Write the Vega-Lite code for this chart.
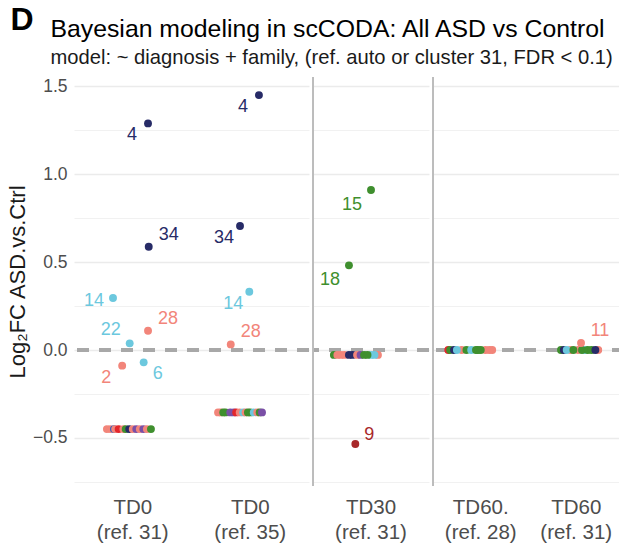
{
  "$schema": "https://vega.github.io/schema/vega-lite/v6.json",
  "padding": {"left": 6, "top": 4, "right": 0, "bottom": 0},
  "background": "white",
  "config": {"font": "Liberation Sans", "view": {"stroke": null}, "concat": {"spacing": 0}},
  "title": {"text": "D", "anchor": "start", "fontSize": 32, "fontWeight": "bold", "color": "#000000", "dy": 24, "dx": 4},
  "data": {"values": [
    {"cat": "TD0 (ref. 31)", "grp": "A", "lfc": -0.45, "jit": -0.22},
    {"cat": "TD0 (ref. 31)", "grp": "A", "lfc": -0.45, "jit": -0.19},
    {"cat": "TD0 (ref. 31)", "grp": "C", "lfc": -0.45, "jit": -0.16},
    {"cat": "TD0 (ref. 31)", "grp": "A", "lfc": -0.45, "jit": -0.15},
    {"cat": "TD0 (ref. 31)", "grp": "B", "lfc": -0.45, "jit": -0.12},
    {"cat": "TD0 (ref. 31)", "grp": "A", "lfc": -0.45, "jit": -0.08},
    {"cat": "TD0 (ref. 31)", "grp": "D", "lfc": -0.45, "jit": -0.06},
    {"cat": "TD0 (ref. 31)", "grp": "G", "lfc": -0.45, "jit": -0.03},
    {"cat": "TD0 (ref. 31)", "grp": "A", "lfc": -0.45, "jit": 0.0},
    {"cat": "TD0 (ref. 31)", "grp": "E", "lfc": -0.45, "jit": 0.03},
    {"cat": "TD0 (ref. 31)", "grp": "A", "lfc": -0.45, "jit": 0.06},
    {"cat": "TD0 (ref. 31)", "grp": "E", "lfc": -0.45, "jit": 0.09},
    {"cat": "TD0 (ref. 31)", "grp": "A", "lfc": -0.45, "jit": 0.12},
    {"cat": "TD0 (ref. 31)", "grp": "D", "lfc": -0.45, "jit": 0.155},
    {"cat": "TD0 (ref. 31)", "grp": "G", "lfc": 1.29, "jit": 0.13, "lab": "4"},
    {"cat": "TD0 (ref. 31)", "grp": "G", "lfc": 0.588, "jit": 0.136, "lab": "34"},
    {"cat": "TD0 (ref. 31)", "grp": "F", "lfc": 0.296, "jit": -0.168, "lab": "14"},
    {"cat": "TD0 (ref. 31)", "grp": "F", "lfc": 0.038, "jit": -0.026, "lab": "22"},
    {"cat": "TD0 (ref. 31)", "grp": "A", "lfc": 0.11, "jit": 0.13, "lab": "28"},
    {"cat": "TD0 (ref. 31)", "grp": "A", "lfc": -0.089, "jit": -0.09, "lab": "2"},
    {"cat": "TD0 (ref. 31)", "grp": "F", "lfc": -0.07, "jit": 0.093, "lab": "6"},

    {"cat": "TD0 (ref. 35)", "grp": "A", "lfc": -0.355, "jit": -0.274},
    {"cat": "TD0 (ref. 35)", "grp": "A", "lfc": -0.355, "jit": -0.25},
    {"cat": "TD0 (ref. 35)", "grp": "D", "lfc": -0.355, "jit": -0.23},
    {"cat": "TD0 (ref. 35)", "grp": "D", "lfc": -0.355, "jit": -0.21},
    {"cat": "TD0 (ref. 35)", "grp": "E", "lfc": -0.355, "jit": -0.17},
    {"cat": "TD0 (ref. 35)", "grp": "E", "lfc": -0.355, "jit": -0.14},
    {"cat": "TD0 (ref. 35)", "grp": "B", "lfc": -0.355, "jit": -0.12},
    {"cat": "TD0 (ref. 35)", "grp": "A", "lfc": -0.355, "jit": -0.09},
    {"cat": "TD0 (ref. 35)", "grp": "F", "lfc": -0.355, "jit": -0.06},
    {"cat": "TD0 (ref. 35)", "grp": "A", "lfc": -0.355, "jit": -0.04},
    {"cat": "TD0 (ref. 35)", "grp": "D", "lfc": -0.355, "jit": -0.02},
    {"cat": "TD0 (ref. 35)", "grp": "D", "lfc": -0.355, "jit": 0.0},
    {"cat": "TD0 (ref. 35)", "grp": "F", "lfc": -0.355, "jit": 0.03},
    {"cat": "TD0 (ref. 35)", "grp": "A", "lfc": -0.355, "jit": 0.06},
    {"cat": "TD0 (ref. 35)", "grp": "D", "lfc": -0.355, "jit": 0.08},
    {"cat": "TD0 (ref. 35)", "grp": "E", "lfc": -0.355, "jit": 0.1},
    {"cat": "TD0 (ref. 35)", "grp": "G", "lfc": 1.451, "jit": 0.074, "lab": "4"},
    {"cat": "TD0 (ref. 35)", "grp": "G", "lfc": 0.706, "jit": -0.087, "lab": "34"},
    {"cat": "TD0 (ref. 35)", "grp": "F", "lfc": 0.332, "jit": -0.008, "lab": "14"},
    {"cat": "TD0 (ref. 35)", "grp": "A", "lfc": 0.032, "jit": -0.166, "lab": "28"},

    {"cat": "TD30 (ref. 31)", "grp": "D", "lfc": -0.028, "jit": -0.32},
    {"cat": "TD30 (ref. 31)", "grp": "A", "lfc": -0.028, "jit": -0.29},
    {"cat": "TD30 (ref. 31)", "grp": "A", "lfc": -0.028, "jit": -0.26},
    {"cat": "TD30 (ref. 31)", "grp": "A", "lfc": -0.028, "jit": -0.23},
    {"cat": "TD30 (ref. 31)", "grp": "G", "lfc": -0.028, "jit": -0.19},
    {"cat": "TD30 (ref. 31)", "grp": "G", "lfc": -0.028, "jit": -0.16},
    {"cat": "TD30 (ref. 31)", "grp": "A", "lfc": -0.028, "jit": -0.12},
    {"cat": "TD30 (ref. 31)", "grp": "E", "lfc": -0.028, "jit": -0.09},
    {"cat": "TD30 (ref. 31)", "grp": "A", "lfc": -0.028, "jit": 0.06},
    {"cat": "TD30 (ref. 31)", "grp": "F", "lfc": -0.028, "jit": 0.03},
    {"cat": "TD30 (ref. 31)", "grp": "F", "lfc": -0.028, "jit": 0.0},
    {"cat": "TD30 (ref. 31)", "grp": "D", "lfc": -0.028, "jit": -0.06},
    {"cat": "TD30 (ref. 31)", "grp": "D", "lfc": -0.028, "jit": -0.03},
    {"cat": "TD30 (ref. 31)", "grp": "D", "lfc": 0.911, "jit": 0.0, "lab": "15"},
    {"cat": "TD30 (ref. 31)", "grp": "D", "lfc": 0.482, "jit": -0.19, "lab": "18"},
    {"cat": "TD30 (ref. 31)", "grp": "H", "lfc": -0.535, "jit": -0.135, "lab": "9"},

    {"cat": "TD60. (ref. 28)", "grp": "B", "lfc": 0.0, "jit": -0.34},
    {"cat": "TD60. (ref. 28)", "grp": "A", "lfc": 0.0, "jit": 0.12},
    {"cat": "TD60. (ref. 28)", "grp": "A", "lfc": 0.0, "jit": 0.09},
    {"cat": "TD60. (ref. 28)", "grp": "A", "lfc": 0.0, "jit": 0.05},
    {"cat": "TD60. (ref. 28)", "grp": "A", "lfc": 0.0, "jit": -0.2},
    {"cat": "TD60. (ref. 28)", "grp": "D", "lfc": 0.0, "jit": -0.32},
    {"cat": "TD60. (ref. 28)", "grp": "G", "lfc": 0.0, "jit": -0.28},
    {"cat": "TD60. (ref. 28)", "grp": "F", "lfc": 0.0, "jit": -0.25},
    {"cat": "TD60. (ref. 28)", "grp": "D", "lfc": 0.0, "jit": -0.15},
    {"cat": "TD60. (ref. 28)", "grp": "F", "lfc": 0.0, "jit": -0.1},
    {"cat": "TD60. (ref. 28)", "grp": "D", "lfc": 0.0, "jit": -0.05},
    {"cat": "TD60. (ref. 28)", "grp": "D", "lfc": 0.0, "jit": -0.03},
    {"cat": "TD60. (ref. 28)", "grp": "D", "lfc": 0.0, "jit": 0.0},

    {"cat": "TD60 (ref. 31)", "grp": "A", "lfc": 0.0, "jit": 0.23},
    {"cat": "TD60 (ref. 31)", "grp": "A", "lfc": 0.0, "jit": -0.06},
    {"cat": "TD60 (ref. 31)", "grp": "A", "lfc": 0.0, "jit": 0.02},
    {"cat": "TD60 (ref. 31)", "grp": "D", "lfc": 0.0, "jit": -0.16},
    {"cat": "TD60 (ref. 31)", "grp": "G", "lfc": 0.0, "jit": -0.13},
    {"cat": "TD60 (ref. 31)", "grp": "F", "lfc": 0.0, "jit": -0.1},
    {"cat": "TD60 (ref. 31)", "grp": "D", "lfc": 0.0, "jit": -0.03},
    {"cat": "TD60 (ref. 31)", "grp": "F", "lfc": 0.0, "jit": 0.09},
    {"cat": "TD60 (ref. 31)", "grp": "D", "lfc": 0.0, "jit": 0.06},
    {"cat": "TD60 (ref. 31)", "grp": "D", "lfc": 0.0, "jit": 0.12},
    {"cat": "TD60 (ref. 31)", "grp": "D", "lfc": 0.0, "jit": 0.16},
    {"cat": "TD60 (ref. 31)", "grp": "G", "lfc": 0.0, "jit": 0.2},
    {"cat": "TD60 (ref. 31)", "grp": "A", "lfc": 0.04, "jit": 0.05, "lab": "11"}
  ]},
  "vconcat": [{
    "title": {"text": "Bayesian modeling in scCODA: All ASD vs Control", "subtitle": "model: ~ diagnosis + family, (ref. auto or cluster 31, FDR < 0.1)", "anchor": "start", "fontSize": 24.8, "fontWeight": "normal", "color": "#000000", "subtitleFontSize": 20.2, "subtitleColor": "#1a1a1a", "subtitlePadding": 6, "dx": 44, "offset": 8},
    "spacing": 0,
    "resolve": {"scale": {"x": "independent", "xOffset": "independent"}},
    "hconcat": [
      {
        "width": 235, "height": 409,
        "transform": [{"filter": {"field": "cat", "oneOf": ["TD0 (ref. 31)", "TD0 (ref. 35)"]}}],
        "resolve": {"axis": {"y": "independent"}},
        "layer": [
          {"mark": {"type": "rule", "color": "#a8a8a8", "strokeWidth": 2.4, "strokeDash": [12, 10]},
           "encoding": {"y": {"datum": 0, "type": "quantitative", "scale": {"domain": [-0.774, 1.554], "nice": false, "zero": false},
             "axis": {"orient": "right", "values": [-0.75, -0.25, 0.25, 0.75, 1.25], "labels": false, "ticks": false, "domain": false, "title": null, "grid": true, "gridColor": "#ededed", "gridWidth": 0.8}}}},
          {
            "encoding": {
              "x": {"field": "cat", "type": "nominal", "sort": ["TD0 (ref. 31)", "TD0 (ref. 35)"], "scale": {"type": "band", "paddingInner": 0, "paddingOuter": 0},
                "axis": {"title": null, "labelAngle": 0, "labelExpr": "split(replace(datum.value, ' (', '|('), '|')", "labelFontSize": 20.5, "labelColor": "#4d4d4d", "labelLineHeight": 25, "labelPadding": 11, "labelBaseline": "top", "ticks": false, "domain": false, "grid": false}},
              "xOffset": {"field": "jit", "type": "quantitative", "scale": {"domain": [-0.5, 0.5], "range": [0, 117.5]}},
              "y": {"field": "lfc", "type": "quantitative", "scale": {"domain": [-0.774, 1.554], "nice": false, "zero": false},
                "axis": {"orient": "left", "values": [-0.5, 0, 0.5, 1, 1.5], "format": ".1f", "labelExpr": "replace(datum.label, '-', '−')", "title": "Log₂FC ASD.vs.Ctrl", "titleFontSize": 22, "titleFontWeight": "normal", "titleColor": "#1a1a1a", "titlePadding": 3, "labelFontSize": 17.5, "labelColor": "#4d4d4d", "labelPadding": 7, "ticks": false, "domain": false, "grid": true, "gridColor": "#ebebeb", "gridWidth": 1.5}},
              "color": {"field": "grp", "type": "nominal", "legend": null, "scale": {"domain": ["A", "B", "C", "D", "E", "F", "G", "H"], "range": ["#F2857A", "#E3262B", "#3A5DB6", "#3F8F2E", "#7A4FA6", "#6CC8DE", "#272B67", "#A8282A"]}}
            },
            "layer": [
              {"mark": {"type": "circle", "size": 62, "opacity": 1}},
              {"transform": [{"filter": "indexof(['TD0 (ref. 31)|4','TD0 (ref. 31)|2','TD0 (ref. 35)|4','TD0 (ref. 35)|34','TD0 (ref. 35)|14'], datum.cat + '|' + datum.lab) >= 0"}],
               "mark": {"type": "text", "fontSize": 18, "align": "center", "baseline": "middle", "dx": -16, "dy": 12}, "encoding": {"text": {"field": "lab"}}},
              {"transform": [{"filter": "indexof(['TD0 (ref. 31)|34','TD0 (ref. 31)|28','TD0 (ref. 35)|28'], datum.cat + '|' + datum.lab) >= 0"}],
               "mark": {"type": "text", "fontSize": 18, "align": "center", "baseline": "middle", "dx": 20, "dy": -12}, "encoding": {"text": {"field": "lab"}}},
              {"transform": [{"filter": "datum.cat + '|' + datum.lab == 'TD0 (ref. 31)|22'"}],
               "mark": {"type": "text", "fontSize": 18, "align": "center", "baseline": "middle", "dx": -19, "dy": -13}, "encoding": {"text": {"field": "lab"}}},
              {"transform": [{"filter": "datum.cat + '|' + datum.lab == 'TD0 (ref. 31)|6'"}],
               "mark": {"type": "text", "fontSize": 18, "align": "center", "baseline": "middle", "dx": 14, "dy": 12}, "encoding": {"text": {"field": "lab"}}},
              {"transform": [{"filter": "datum.cat + '|' + datum.lab == 'TD0 (ref. 31)|14'"}],
               "mark": {"type": "text", "fontSize": 18, "align": "center", "baseline": "middle", "dx": -19, "dy": 3}, "encoding": {"text": {"field": "lab"}}}
            ]
          }
        ]
      },
      {
        "width": 116, "height": 409,
        "transform": [{"filter": {"field": "cat", "oneOf": ["TD30 (ref. 31)"]}}],
        "resolve": {"axis": {"y": "independent"}},
        "layer": [
          {"mark": {"type": "rule", "color": "#a8a8a8", "strokeWidth": 2.4, "strokeDash": [12, 10]},
           "encoding": {"y": {"datum": 0, "type": "quantitative", "scale": {"domain": [-0.774, 1.554], "nice": false, "zero": false},
             "axis": {"orient": "right", "values": [-0.75, -0.25, 0.25, 0.75, 1.25], "labels": false, "ticks": false, "domain": false, "title": null, "grid": true, "gridColor": "#ededed", "gridWidth": 0.8}}}},
          {"mark": {"type": "rule", "color": "#bdbdbd", "strokeWidth": 1.2},
           "encoding": {"x": {"datum": "TD30 (ref. 31)", "type": "nominal", "bandPosition": 0, "scale": {"type": "band", "paddingInner": 0, "paddingOuter": 0},
             "axis": {"title": null, "labelAngle": 0, "labelExpr": "split(replace(datum.value, ' (', '|('), '|')", "labelFontSize": 20.5, "labelColor": "#4d4d4d", "labelLineHeight": 25, "labelPadding": 11, "labelBaseline": "top", "ticks": false, "domain": false, "grid": false}}}},
          {
            "encoding": {
              "x": {"field": "cat", "type": "nominal", "scale": {"type": "band", "paddingInner": 0, "paddingOuter": 0},
                "axis": {"title": null, "labelAngle": 0, "labelExpr": "split(replace(datum.value, ' (', '|('), '|')", "labelFontSize": 20.5, "labelColor": "#4d4d4d", "labelLineHeight": 25, "labelPadding": 11, "labelBaseline": "top", "ticks": false, "domain": false, "grid": false}},
              "xOffset": {"field": "jit", "type": "quantitative", "scale": {"domain": [-0.5, 0.5], "range": [0, 116]}},
              "y": {"field": "lfc", "type": "quantitative", "scale": {"domain": [-0.774, 1.554], "nice": false, "zero": false},
                "axis": {"orient": "left", "values": [-0.5, 0, 0.5, 1, 1.5], "labels": false, "title": null, "ticks": false, "domain": false, "grid": true, "gridColor": "#ebebeb", "gridWidth": 1.5}},
              "color": {"field": "grp", "type": "nominal", "legend": null, "scale": {"domain": ["A", "B", "C", "D", "E", "F", "G", "H"], "range": ["#F2857A", "#E3262B", "#3A5DB6", "#3F8F2E", "#7A4FA6", "#6CC8DE", "#272B67", "#A8282A"]}}
            },
            "layer": [
              {"mark": {"type": "circle", "size": 62, "opacity": 1}},
              {"transform": [{"filter": "indexof(['TD30 (ref. 31)|15','TD30 (ref. 31)|18'], datum.cat + '|' + datum.lab) >= 0"}],
               "mark": {"type": "text", "fontSize": 18, "align": "center", "baseline": "middle", "dx": -19, "dy": 15}, "encoding": {"text": {"field": "lab"}}},
              {"transform": [{"filter": "datum.cat + '|' + datum.lab == 'TD30 (ref. 31)|9'"}],
               "mark": {"type": "text", "fontSize": 18, "align": "center", "baseline": "middle", "dx": 14, "dy": -9}, "encoding": {"text": {"field": "lab"}}}
            ]
          }
        ]
      },
      {
        "width": 191, "height": 409,
        "transform": [{"filter": {"field": "cat", "oneOf": ["TD60. (ref. 28)", "TD60 (ref. 31)"]}}],
        "resolve": {"axis": {"y": "independent"}},
        "layer": [
          {"mark": {"type": "rule", "color": "#a8a8a8", "strokeWidth": 2.4, "strokeDash": [12, 10]},
           "encoding": {"y": {"datum": 0, "type": "quantitative", "scale": {"domain": [-0.774, 1.554], "nice": false, "zero": false},
             "axis": {"orient": "right", "values": [-0.75, -0.25, 0.25, 0.75, 1.25], "labels": false, "ticks": false, "domain": false, "title": null, "grid": true, "gridColor": "#ededed", "gridWidth": 0.8}}}},
          {"mark": {"type": "rule", "color": "#bdbdbd", "strokeWidth": 1.2},
           "encoding": {"x": {"datum": "TD60. (ref. 28)", "type": "nominal", "bandPosition": 0, "scale": {"type": "band", "paddingInner": 0, "paddingOuter": 0},
             "axis": {"title": null, "labelAngle": 0, "labelExpr": "split(replace(datum.value, ' (', '|('), '|')", "labelFontSize": 20.5, "labelColor": "#4d4d4d", "labelLineHeight": 25, "labelPadding": 11, "labelBaseline": "top", "ticks": false, "domain": false, "grid": false}}}},
          {
            "encoding": {
              "x": {"field": "cat", "type": "nominal", "sort": ["TD60. (ref. 28)", "TD60 (ref. 31)"], "scale": {"type": "band", "paddingInner": 0, "paddingOuter": 0},
                "axis": {"title": null, "labelAngle": 0, "labelExpr": "split(replace(datum.value, ' (', '|('), '|')", "labelFontSize": 20.5, "labelColor": "#4d4d4d", "labelLineHeight": 25, "labelPadding": 11, "labelBaseline": "top", "ticks": false, "domain": false, "grid": false}},
              "xOffset": {"field": "jit", "type": "quantitative", "scale": {"domain": [-0.5, 0.5], "range": [0, 95.5]}},
              "y": {"field": "lfc", "type": "quantitative", "scale": {"domain": [-0.774, 1.554], "nice": false, "zero": false},
                "axis": {"orient": "left", "values": [-0.5, 0, 0.5, 1, 1.5], "labels": false, "title": null, "ticks": false, "domain": false, "grid": true, "gridColor": "#ebebeb", "gridWidth": 1.5}},
              "color": {"field": "grp", "type": "nominal", "legend": null, "scale": {"domain": ["A", "B", "C", "D", "E", "F", "G", "H"], "range": ["#F2857A", "#E3262B", "#3A5DB6", "#3F8F2E", "#7A4FA6", "#6CC8DE", "#272B67", "#A8282A"]}}
            },
            "layer": [
              {"mark": {"type": "circle", "size": 62, "opacity": 1}},
              {"transform": [{"filter": "datum.cat + '|' + datum.lab == 'TD60 (ref. 31)|11'"}],
               "mark": {"type": "text", "fontSize": 18, "align": "center", "baseline": "middle", "dx": 19, "dy": -12}, "encoding": {"text": {"field": "lab"}}}
            ]
          }
        ]
      }
    ]
  }]
}
